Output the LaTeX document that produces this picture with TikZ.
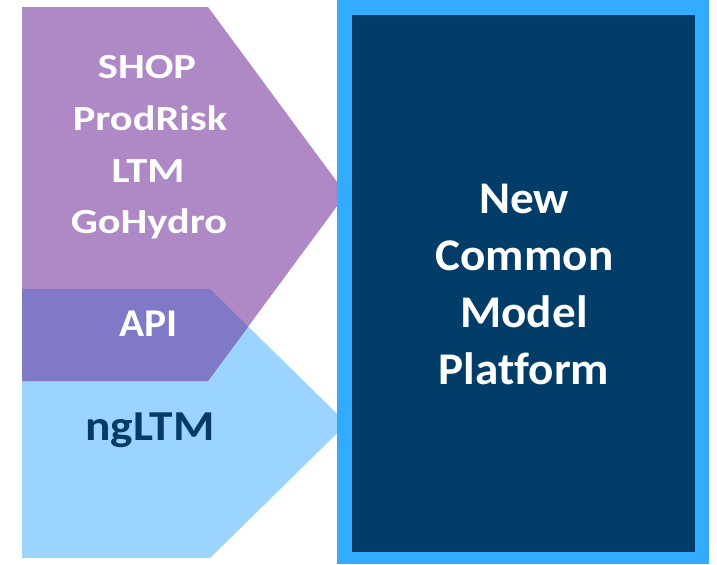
\documentclass[tikz,border=0pt]{standalone}
\usepackage{fontspec}
\setmainfont{Carlito}[Ligatures=NoCommon]
\definecolor{purp}{HTML}{AF88C6}
\definecolor{overl}{HTML}{8079C8}
\definecolor{lblue}{HTML}{9BD4FF}
\definecolor{bord}{HTML}{33ABFF}
\definecolor{dblue}{HTML}{023C68}
\definecolor{ngtxt}{HTML}{073B66}
\newcommand{\sx}[2]{\scalebox{#1}[1]{#2}}
\tikzset{
  lefttxt/.style={anchor=base, text=white, inner sep=0pt, font=\fontsize{26.5}{30}\selectfont\bfseries},
  apitxt/.style={anchor=base, text=white, inner sep=0pt, font=\fontsize{29.5}{34}\selectfont\bfseries},
  ngtxtstyle/.style={anchor=base, text=ngtxt, inner sep=0pt, font=\fontsize{32}{36}\selectfont\bfseries},
  righttxt/.style={anchor=base, text=white, inner sep=0pt, font=\fontsize{34}{38}\selectfont\bfseries},
}
\begin{document}
\begin{tikzpicture}[x=0.75pt,y=-0.75pt]
\useasboundingbox (0,0) rectangle (717,564);
% light blue arrow
\fill[lblue] (22,289) -- (210,289) -- (347,423.5) -- (210,558) -- (22,558) -- cycle;
% purple arrow
\fill[purp] (22,7) -- (208,7) -- (346,194) -- (208,381) -- (22,381) -- cycle;
% overlap
\begin{scope}
\clip (22,289) -- (210,289) -- (347,423.5) -- (210,558) -- (22,558) -- cycle;
\fill[overl] (22,7) -- (208,7) -- (346,194) -- (208,381) -- (22,381) -- cycle;
\end{scope}
% platform box
\fill[bord] (337,0) rectangle (709,564);
\fill[dblue] (352,15) rectangle (695,552);
% texts
\node[lefttxt] (shop) at (147,78) {\sx{1.2}{SHOP}};
\node[lefttxt] (prodrisk) at (150,130) {\sx{1.2}{ProdRisk}};
\node[lefttxt] (ltm) at (148,182) {\sx{1.2}{LTM}};
\node[lefttxt] (gohydro) at (149,233) {\sx{1.2}{GoHydro}};
\node[apitxt] (api) at (148.5,336) {\sx{1.055}{API}};
\node[ngtxtstyle] (ngltm) at (150,440) {\sx{1.11}{ngLTM}};
\node[righttxt] (new) at (524,213) {\sx{1.04}{New}};
\node[righttxt] (common) at (524.5,270) {\sx{1.04}{Common}};
\node[righttxt] (model) at (524,327) {\sx{1.04}{Model}};
\node[righttxt] (platform) at (524,384) {\sx{1.04}{Platform}};
\end{tikzpicture}
\end{document}
